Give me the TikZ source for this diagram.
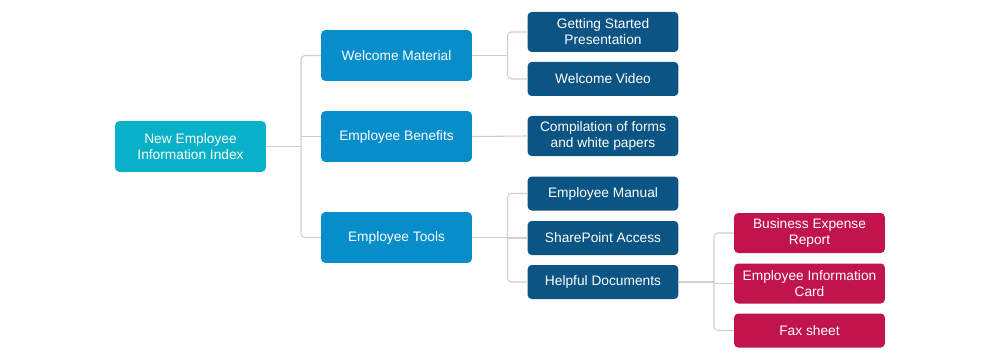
\documentclass[tikz,border=0pt]{standalone}
\usepackage{fontspec}
\setmainfont{Liberation Sans}
\usetikzlibrary{positioning,calc}
\definecolor{rootc}{HTML}{08B1C7}
\definecolor{lvla}{HTML}{068DCA}
\definecolor{lvlb}{HTML}{0B5483}
\definecolor{lvlc}{HTML}{C1144D}
\definecolor{wire}{HTML}{CFCFCF}

\begin{document}
\begin{tikzpicture}[x=0.75pt,y=-0.75pt,
  font=\fontsize{10.3}{12}\selectfont,
  box/.style={rounded corners=3pt,text=white,align=center,inner sep=0pt,minimum width=113pt},
  rbox/.style={box,fill=rootc,minimum height=38pt},
  abox/.style={box,fill=lvla,minimum height=38pt},
  bbox/.style={box,fill=lvlb,minimum height=25.5pt},
  cbox/.style={box,fill=lvlc,minimum height=25.5pt},
  link/.style={draw=wire,line width=0.8pt,rounded corners=3pt}]
\useasboundingbox (0,0) rectangle (1000,360);
\node[rbox] (root) at (190.5,146.5) {New Employee\\Information Index};
\node[abox] (WM) at (396.5,55.5) {Welcome Material};
\node[abox] (EB) at (396.5,136.5) {Employee Benefits};
\node[abox] (ET) at (396.5,237.5) {Employee Tools};
\node[bbox,minimum height=30pt] (GS) at (603,32) {Getting Started\\Presentation};
\node[bbox] (WV) at (603,79) {Welcome Video};
\node[bbox,minimum height=30pt] (CF) at (603,136) {Compilation of forms\\and white papers};
\node[bbox] (EM) at (603,193.5) {Employee Manual};
\node[bbox] (SP) at (603,238) {SharePoint Access};
\node[bbox] (HD) at (603,282) {Helpful Documents};
\node[cbox,minimum height=30pt] (BE) at (809.5,233) {Business Expense\\Report};
\node[cbox,minimum height=30pt] (EI) at (809.5,283.5) {Employee Information\\Card};
\node[cbox] (FS) at (809.5,330.5) {Fax sheet};
% junction columns
\coordinate (j0) at (301,0);
\coordinate (j1) at (507.5,0);
\coordinate (j2) at (714,0);
\draw[link] (root.east) -- (root.east -| j0);
\draw[link] (WM.west) -| (j0 |- ET.west) -- (ET.west);
\draw[link] (EB.west) -- (EB.west -| j0);
\draw[link] (WM.east) -- (WM.east -| j1);
\draw[link] (GS.west) -| (j1 |- WV.west) -- (WV.west);
\draw[link] (EB.east) -- (CF.west);
\draw[link] (ET.east) -- (ET.east -| j1);
\draw[link] (EM.west) -| (j1 |- HD.west) -- (HD.west);
\draw[link] (SP.west) -- (SP.west -| j1);
\draw[link] (HD.east) -- (HD.east -| j2);
\draw[link] (BE.west) -| (j2 |- FS.west) -- (FS.west);
\draw[link] (EI.west) -- (EI.west -| j2);
\end{tikzpicture}
\end{document}
